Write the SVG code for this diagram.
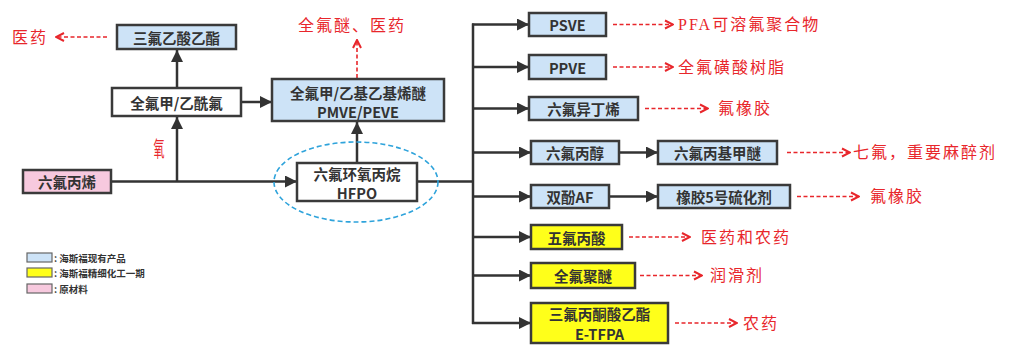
<svg xmlns="http://www.w3.org/2000/svg" width="1011" height="345" viewBox="0 0 1011 345">
<defs>
<marker id="tri" viewBox="0 0 10 10" refX="10" refY="5" markerWidth="16" markerHeight="12" markerUnits="userSpaceOnUse" orient="auto">
<path d="M0,0 L10,5 L0,10 z" fill="#333"/>
</marker>
<marker id="chev" viewBox="0 0 10 10" refX="9" refY="5" markerWidth="10" markerHeight="12" markerUnits="userSpaceOnUse" orient="auto">
<path d="M1,1 L9,5 L1,9" fill="none" stroke="#e8262b" stroke-width="2"/>
</marker>
</defs>
<style>
.box{stroke:#3a3a3a;stroke-width:2.5}
.blue{fill:#cde3f7}
.white{fill:#ffffff}
.yellow{fill:#ffff1a}
.pink{fill:#f7c9de}
.t{font-family:"Noto Sans CJK SC","Noto Sans",sans-serif;font-weight:bold;font-size:14.5px;fill:#333;text-anchor:middle;dominant-baseline:central}
.conn{stroke:#333;stroke-width:2.5;fill:none}
.red{stroke:#e8262b;stroke-width:1.6;stroke-dasharray:4 2.5;fill:none}
.rt{font-family:"Liberation Serif","Noto Sans CJK SC",serif;font-size:16px;fill:#e8262b;letter-spacing:2px;dominant-baseline:central}
.lg{font-family:"Noto Sans CJK SC",sans-serif;font-weight:bold;font-size:9.5px;fill:#333;dominant-baseline:central}
</style>
<g id="connectors">
<line class="conn" x1="111" y1="181.5" x2="297" y2="181.5" marker-end="url(#tri)"/>
<line class="conn" x1="177" y1="181.5" x2="177" y2="117" marker-end="url(#tri)"/>
<line class="conn" x1="177" y1="88" x2="177" y2="50" marker-end="url(#tri)"/>
<line class="conn" x1="241" y1="102" x2="272" y2="102" marker-end="url(#tri)"/>
<line class="conn" x1="357" y1="163" x2="357" y2="122" marker-end="url(#tri)"/>
<line class="conn" x1="417" y1="181.5" x2="473" y2="181.5"/>
<line class="conn" x1="473" y1="23.5" x2="473" y2="324"/>
<line class="conn" x1="472" y1="24.5" x2="529" y2="24.5" marker-end="url(#tri)"/>
<line class="conn" x1="472" y1="67" x2="529" y2="67" marker-end="url(#tri)"/>
<line class="conn" x1="472" y1="108.5" x2="529" y2="108.5" marker-end="url(#tri)"/>
<line class="conn" x1="472" y1="152.5" x2="531" y2="152.5" marker-end="url(#tri)"/>
<line class="conn" x1="472" y1="196.5" x2="531" y2="196.5" marker-end="url(#tri)"/>
<line class="conn" x1="472" y1="237" x2="531" y2="237" marker-end="url(#tri)"/>
<line class="conn" x1="472" y1="275.5" x2="531" y2="275.5" marker-end="url(#tri)"/>
<line class="conn" x1="472" y1="323" x2="531" y2="323" marker-end="url(#tri)"/>
<line class="conn" x1="619" y1="152.5" x2="658" y2="152.5" marker-end="url(#tri)"/>
<line class="conn" x1="609" y1="196.5" x2="658" y2="196.5" marker-end="url(#tri)"/>
<line class="red" x1="107" y1="37" x2="56" y2="37" marker-end="url(#chev)"/>
<line class="red" x1="357" y1="78" x2="357" y2="40" marker-end="url(#chev)"/>
<line class="red" x1="613" y1="24.5" x2="673" y2="24.5" marker-end="url(#chev)"/>
<line class="red" x1="613" y1="67" x2="673" y2="67" marker-end="url(#chev)"/>
<line class="red" x1="645" y1="108.5" x2="708" y2="108.5" marker-end="url(#chev)"/>
<line class="red" x1="787" y1="152.5" x2="850" y2="152.5" marker-end="url(#chev)"/>
<line class="red" x1="797" y1="196.5" x2="859" y2="196.5" marker-end="url(#chev)"/>
<line class="red" x1="629" y1="237" x2="690" y2="237" marker-end="url(#chev)"/>
<line class="red" x1="640" y1="275.5" x2="702" y2="275.5" marker-end="url(#chev)"/>
<line class="red" x1="675" y1="323" x2="737" y2="323" marker-end="url(#chev)"/>
</g>
<g id="labels">
<text class="rt" x="12" y="37">医药</text>
<text class="rt" x="298" y="25">全氟醚、医药</text>
<text class="rt" x="678" y="24.5">PFA可溶氟聚合物</text>
<text class="rt" x="678" y="67">全氟磺酸树脂</text>
<text class="rt" x="718" y="108.5">氟橡胶</text>
<text class="rt" x="853" y="152.5">七氟，重要麻醉剂</text>
<text class="rt" x="870" y="196.5">氟橡胶</text>
<text class="rt" x="701" y="237">医药和农药</text>
<text class="rt" x="710" y="275.5">润滑剂</text>
<text class="rt" x="743" y="323">农药</text>
<text x="159" y="147" font-family="Noto Sans CJK SC,sans-serif" font-size="11" fill="#e8262b" text-anchor="middle" dominant-baseline="central" transform="translate(159 147) scale(1 1.9) translate(-159 -147)">氧</text>
</g>
<g id="hfp"><rect class="box pink" x="23" y="170" width="88" height="23"/><text class="t" x="67" y="181.5">六氟丙烯</text></g>
<g id="tfaee"><rect class="box blue" x="117" y="25" width="119" height="24"/><text class="t" x="176.5" y="37">三氟乙酸乙酯</text></g>
<g id="acyl"><rect class="box white" x="112" y="88" width="129" height="28"/><text class="t" x="176.5" y="102">全氟甲/乙酰氟</text></g>
<g id="pmve"><rect class="box blue" x="272" y="79" width="172" height="42"/><text class="t" x="358" y="92">全氟甲/乙基乙基烯醚</text><text class="t" x="358" y="111">PMVE/PEVE</text></g>
<g id="hfpo"><ellipse cx="356" cy="182" rx="82" ry="40" fill="none" stroke="#2ea3db" stroke-width="1.6" stroke-dasharray="5 3"/><rect class="box white" x="297" y="163" width="120" height="38"/><text class="t" x="357" y="173">六氟环氧丙烷</text><text class="t" x="357" y="192">HFPO</text></g>
<g id="psve"><rect class="box blue" x="529" y="13" width="77" height="23"/><text class="t" x="567.5" y="24.5">PSVE</text></g>
<g id="ppve"><rect class="box blue" x="529" y="55" width="77" height="24"/><text class="t" x="567.5" y="67">PPVE</text></g>
<g id="hfib"><rect class="box blue" x="529" y="97" width="109" height="23"/><text class="t" x="583.5" y="108.5">六氟异丁烯</text></g>
<g id="hfip"><rect class="box blue" x="531" y="141" width="88" height="23"/><text class="t" x="575" y="152.5">六氟丙醇</text></g>
<g id="sevo"><rect class="box blue" x="658" y="141" width="119" height="23"/><text class="t" x="717.5" y="152.5">六氟丙基甲醚</text></g>
<g id="bpaf"><rect class="box blue" x="531" y="185" width="78" height="23"/><text class="t" x="570" y="196.5">双酚AF</text></g>
<g id="vc5"><rect class="box blue" x="658" y="185" width="132" height="23"/><text class="t" x="724" y="196.5">橡胶5号硫化剂</text></g>
<g id="pfpa"><rect class="box yellow" x="531" y="225" width="91" height="24"/><text class="t" x="576.5" y="237">五氟丙酸</text></g>
<g id="pfpe"><rect class="box yellow" x="531" y="263" width="104" height="25"/><text class="t" x="583" y="275.5">全氟聚醚</text></g>
<g id="etfpa"><rect class="box yellow" x="531" y="303" width="137" height="40"/><text class="t" x="599.5" y="313">三氟丙酮酸乙酯</text><text class="t" x="599.5" y="333">E-TFPA</text></g>
<g id="legend">
<rect x="27" y="253" width="25" height="9" fill="#cde3f7" stroke="#666" stroke-width="1.2"/>
<text class="lg" x="54" y="257.5">: 海斯福现有产品</text>
<rect x="27" y="268" width="25" height="9" fill="#ffff1a" stroke="#666" stroke-width="1.2"/>
<text class="lg" x="54" y="272.5">: 海斯福精细化工一期</text>
<rect x="27" y="284" width="25" height="9" fill="#f7c9de" stroke="#666" stroke-width="1.2"/>
<text class="lg" x="54" y="288.5">: 原材料</text>
</g>
</svg>
